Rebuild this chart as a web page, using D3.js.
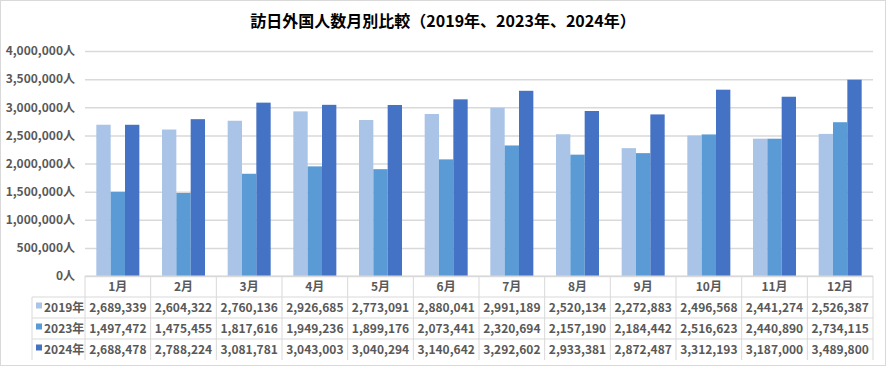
<!DOCTYPE html>
<html lang="ja">
<head>
<meta charset="UTF-8">
<title>訪日外国人数月別比較</title>
<script src="https://d3js.org/d3.v7.min.js"></script>
<style>
  body { margin: 0; background: #fff; }
  text { font-family: "Noto Sans CJK JP", "Noto Sans", sans-serif; }
  .lbl { font-size: 12px; font-weight: bold; fill: #595959; }
</style>
</head>
<body>
<div id="chart"></div>
<script>
// data
const months = ["1月","2月","3月","4月","5月","6月","7月","8月","9月","10月","11月","12月"];
const seriesNames = ["2019年", "2023年", "2024年"];
const v2019 = [2689339, 2604322, 2760136, 2926685, 2773091, 2880041, 2991189, 2520134, 2272883, 2496568, 2441274, 2526387];
const v2023 = [1497472, 1475455, 1817616, 1949236, 1899176, 2073441, 2320694, 2157190, 2184442, 2516623, 2440890, 2734115];
const v2024 = [2688478, 2788224, 3081781, 3043003, 3040294, 3140642, 3292602, 2933381, 2872487, 3312193, 3187000, 3489800];
const yTicks = [0, 500000, 1000000, 1500000, 2000000, 2500000, 3000000, 3500000, 4000000];
const colors = ["#a9c4e6", "#5b9bd5", "#4472c4"];

const series = [v2019, v2023, v2024];
const W = 886, H = 366;
const plotL = 85, plotR = 873, plotT = 51, plotB = 276;
const rowH = 21, legendX = 32;

const svg = d3.select("#chart").append("svg")
  .attr("width", W).attr("height", H);

// outer border
svg.append("rect")
  .attr("x", 0.5).attr("y", 0.5).attr("width", W - 1).attr("height", H - 1)
  .attr("fill", "#fff").attr("stroke", "#d9d9d9");

svg.append("text")
  .attr("x", 443).attr("y", 27)
  .attr("text-anchor", "middle")
  .style("font-size", "16px").style("font-weight", "bold").attr("fill", "#000")
  .text("訪日外国人数月別比較（2019年、2023年、2024年）");

const x = d3.scaleBand().domain(months).range([plotL, plotR]).paddingInner(0).paddingOuter(0);
const y = d3.scaleLinear().domain([0, 4000000]).range([plotB, plotT]);
const inner = d3.scaleBand().domain(d3.range(3))
  .range([0, x.bandwidth()]).paddingInner(0).paddingOuter(0.79);

// gridlines + y labels
const yAxis = svg.append("g")
  .attr("transform", `translate(${plotL},0)`)
  .call(d3.axisLeft(y).tickValues(yTicks).tickSize(-(plotR - plotL)).tickPadding(10)
    .tickFormat(d => d3.format(",")(d) + "人"));
yAxis.select(".domain").remove();
yAxis.selectAll(".tick line").attr("stroke", "#d9d9d9").attr("stroke-width", 1.5);
yAxis.selectAll(".tick text").attr("class", "lbl").attr("fill", "#595959");

// bars
series.forEach((vals, si) => {
  svg.append("g").selectAll("rect")
    .data(vals)
    .enter().append("rect")
    .attr("x", (d, i) => x(months[i]) + inner(si))
    .attr("width", inner.bandwidth())
    .attr("y", d => y(d))
    .attr("height", d => plotB - y(d))
    .attr("fill", colors[si]);
});

// data table
const grid = "#d9d9d9";
const tbl = svg.append("g");
tbl.append("line").attr("x1", plotL).attr("x2", plotR).attr("y1", plotB).attr("y2", plotB).attr("stroke", grid);
[1, 2, 3].forEach(r => {
  tbl.append("line").attr("x1", legendX).attr("x2", plotR)
    .attr("y1", plotB + r * rowH).attr("y2", plotB + r * rowH).attr("stroke", grid);
});
months.forEach(m => {
  tbl.append("line").attr("x1", x(m)).attr("x2", x(m))
    .attr("y1", plotB).attr("y2", plotB + 4 * rowH).attr("stroke", grid);
});
tbl.append("line").attr("x1", plotR).attr("x2", plotR)
  .attr("y1", plotB).attr("y2", plotB + 4 * rowH).attr("stroke", grid);
tbl.append("line").attr("x1", legendX).attr("x2", legendX)
  .attr("y1", plotB + rowH).attr("y2", plotB + 4 * rowH).attr("stroke", grid);

// month headers
tbl.selectAll(".mh").data(months).enter().append("text")
  .attr("class", "lbl")
  .attr("x", d => x(d) + x.bandwidth() / 2)
  .attr("y", plotB + rowH / 2 + 4)
  .attr("text-anchor", "middle")
  .text(d => d);

// rows
series.forEach((vals, si) => {
  const cy = plotB + (si + 1) * rowH + rowH / 2;
  tbl.append("rect")
    .attr("x", legendX + 4).attr("y", cy - 5).attr("width", 6).attr("height", 6)
    .attr("fill", colors[si]);
  tbl.append("text").attr("class", "lbl")
    .attr("x", legendX + 12).attr("y", cy + 4)
    .text(seriesNames[si]);
  tbl.append("g").selectAll("text")
    .data(vals).enter().append("text")
    .attr("class", "lbl")
    .attr("x", (d, i) => x(months[i]) + x.bandwidth() / 2)
    .attr("y", cy + 4)
    .attr("text-anchor", "middle")
    .text(d => d3.format(",")(d));
});
</script>
</body>
</html>
